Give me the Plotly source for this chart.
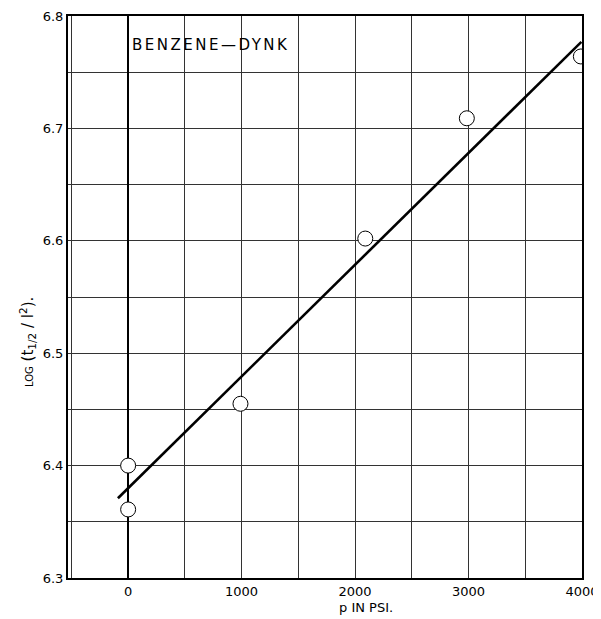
import plotly.graph_objects as go

# data
pressure_psi = [0, 0, 990, 2090, 2985, 3990]
log_ratio = [6.400, 6.361, 6.455, 6.602, 6.709, 6.764]

fit_x = [-90, 3995]
fit_y = [6.371, 6.777]

x_ticks = [0, 1000, 2000, 3000, 4000]
y_ticks = [6.3, 6.4, 6.5, 6.6, 6.7, 6.8]

font_family = "DejaVu Sans"

fig = go.Figure()
fig.add_trace(go.Scatter(
    x=fit_x, y=fit_y, mode="lines",
    line=dict(color="black", width=2.6),
    showlegend=False, hoverinfo="skip"))
fig.add_trace(go.Scatter(
    x=pressure_psi, y=log_ratio, mode="markers",
    marker=dict(symbol="circle", size=15, color="white",
                line=dict(color="black", width=1)),
    showlegend=False))

fig.update_layout(
    width=593, height=611,
    margin=dict(l=60, r=19, t=8, b=41),
    paper_bgcolor="white", plot_bgcolor="white",
    font=dict(family=font_family, size=13, color="black"),
    xaxis=dict(
        range=[-530, 4000],
        tickmode="array", tickvals=x_ticks,
        ticktext=[str(v) for v in x_ticks],
        showgrid=True, gridcolor="#333", gridwidth=1,
        zeroline=True, zerolinecolor="black", zerolinewidth=2,
        showline=True, linecolor="black", linewidth=2, mirror=True,
        ticks="", tickfont=dict(size=13), automargin=False,
        minor=dict(dtick=500, tick0=0, showgrid=True, gridcolor="#333", gridwidth=1),
    ),
    yaxis=dict(
        range=[6.3, 6.8],
        tickmode="array", tickvals=y_ticks,
        ticktext=["%.1f" % v for v in y_ticks],
        showgrid=True, gridcolor="#333", gridwidth=1,
        zeroline=False,
        showline=True, linecolor="black", linewidth=2, mirror=True,
        ticks="", tickfont=dict(size=13), automargin=False,
        minor=dict(dtick=0.05, tick0=6.3, showgrid=True, gridcolor="#333", gridwidth=1),
    ),
    annotations=[
        dict(text="<span style='letter-spacing:2.5px'>BENZENE\u2014DYNK</span>",
             xref="x", yref="y", x=15, y=6.774,
             xanchor="left", yanchor="middle", showarrow=False,
             font=dict(size=15, family=font_family)),
        dict(text="p IN PSI.", xref="paper", yref="paper", x=0.58, y=-0.052,
             xanchor="center", yanchor="middle", showarrow=False,
             font=dict(size=13, family=font_family)),
        dict(text="<span style='font-size:10px'>LOG</span> (t<sub>1/2</sub> / l<sup>2</sup>).",
             xref="paper", yref="paper", x=-0.08, y=0.336, textangle=-90,
             xanchor="center", yanchor="bottom", showarrow=False,
             font=dict(size=15, family=font_family)),
    ],
)

fig.write_html("out.html")
